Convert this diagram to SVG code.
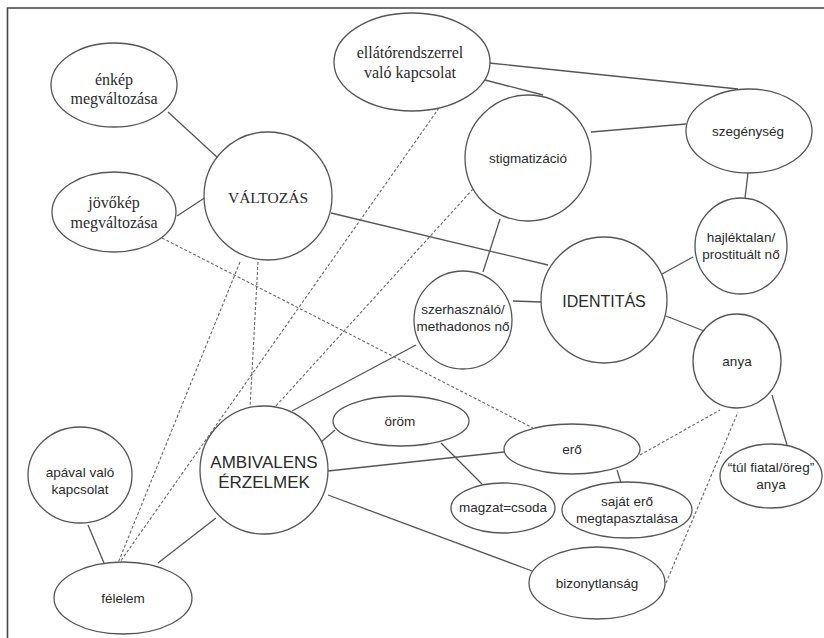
<svg xmlns="http://www.w3.org/2000/svg" width="824" height="638" viewBox="0 0 824 638">
<style>
.n{fill:#fff;stroke:#555;stroke-width:1.3}
.s{stroke:#555;stroke-width:1.3;fill:none}
.d{stroke:#666;stroke-width:1.1;fill:none;stroke-dasharray:3 2}
.tr{font-family:"Liberation Serif",serif;font-size:16px;fill:#2a2a2a;text-anchor:middle}
.ta{font-family:"Liberation Sans",sans-serif;font-size:13.5px;fill:#2a2a2a;text-anchor:middle}
.tb{font-family:"Liberation Sans",sans-serif;font-size:16px;fill:#2a2a2a;text-anchor:middle}
</style>
<rect width="824" height="638" fill="#fff"/>
<path d="M7.5 640 V8 H830" stroke="#444" stroke-width="1.6" fill="none"/>
<g id="connectors">
<line class="s" x1="168" y1="112" x2="218" y2="158"/>
<line class="s" x1="177" y1="216" x2="206" y2="197"/>
<line class="s" x1="331" y1="213" x2="548" y2="265"/>
<line class="s" x1="489" y1="63" x2="738" y2="89"/>
<line class="s" x1="485" y1="80" x2="543" y2="95"/>
<line class="s" x1="591" y1="132" x2="686" y2="124"/>
<line class="s" x1="748" y1="173" x2="745" y2="198"/>
<line class="s" x1="693" y1="257" x2="662" y2="274"/>
<line class="s" x1="500" y1="219" x2="483" y2="272"/>
<line class="s" x1="513" y1="301" x2="541" y2="302"/>
<line class="s" x1="666" y1="316" x2="704" y2="331"/>
<line class="s" x1="772" y1="395" x2="787" y2="445"/>
<line class="s" x1="416" y1="345" x2="292" y2="411"/>
<line class="s" x1="320" y1="443" x2="335" y2="430"/>
<line class="s" x1="328" y1="471" x2="504" y2="452"/>
<line class="s" x1="328" y1="495" x2="532" y2="571"/>
<line class="s" x1="441" y1="443" x2="482" y2="484"/>
<line class="s" x1="617" y1="470" x2="621" y2="483"/>
<line class="s" x1="88" y1="525" x2="104" y2="563"/>
<line class="s" x1="158" y1="563" x2="216" y2="518"/>
<line class="d" x1="162" y1="238" x2="533" y2="428"/>
<line class="d" x1="240" y1="262" x2="118" y2="563"/>
<line class="d" x1="258" y1="262" x2="250" y2="408"/>
<line class="d" x1="439" y1="108" x2="120" y2="562"/>
<line class="d" x1="473" y1="189" x2="275" y2="407"/>
<line class="d" x1="640" y1="455" x2="720" y2="410"/>
<line class="d" x1="666" y1="583" x2="738" y2="412"/>
</g>
<g id="enkep"><ellipse class="n" cx="114" cy="85" rx="63" ry="42"/><text class="tr" x="114" y="85">énkép</text><text class="tr" x="114" y="104">megváltozása</text></g>
<g id="jovokep"><ellipse class="n" cx="114" cy="212" rx="62" ry="40"/><text class="tr" x="114" y="208">jövőkép</text><text class="tr" x="114" y="228">megváltozása</text></g>
<g id="valtozas"><circle class="n" cx="268" cy="196" r="64"/><text class="tr" x="268" y="203" style="font-size:15.5px">VÁLTOZÁS</text></g>
<g id="ellato"><ellipse class="n" cx="412" cy="62" rx="78" ry="49"/><text class="tr" x="410" y="58">ellátórendszerrel</text><text class="tr" x="410" y="78">való kapcsolat</text></g>
<g id="stigma"><circle class="n" cx="528" cy="158" r="63"/><text class="ta" x="528" y="163">stigmatizáció</text></g>
<g id="szegenyseg"><ellipse class="n" cx="749" cy="131" rx="63" ry="42"/><text class="ta" x="748" y="136">szegénység</text></g>
<g id="hajlektalan"><ellipse class="n" cx="741" cy="246" rx="46" ry="48"/><text class="ta" x="741" y="242">hajléktalan/</text><text class="ta" x="741" y="259">prostituált nő</text></g>
<g id="identitas"><circle class="n" cx="604" cy="300" r="63"/><text class="tb" x="604" y="307">IDENTITÁS</text></g>
<g id="szerhasznalo"><circle class="n" cx="463" cy="320" r="49"/><text class="ta" x="463" y="314">szerhasználó/</text><text class="ta" x="463" y="331">methadonos nő</text></g>
<g id="anya"><ellipse class="n" cx="737" cy="361" rx="44" ry="47"/><text class="ta" x="737" y="366">anya</text></g>
<g id="tulfiatal"><ellipse class="n" cx="771" cy="476" rx="51" ry="32"/><text class="ta" x="771" y="472">“túl fiatal/öreg”</text><text class="ta" x="771" y="489">anya</text></g>
<g id="ero"><ellipse class="n" cx="572" cy="449" rx="68" ry="25"/><text class="ta" x="572" y="454">erő</text></g>
<g id="sajatero"><ellipse class="n" cx="627" cy="510" rx="65" ry="28"/><text class="ta" x="627" y="506">saját erő</text><text class="ta" x="627" y="523">megtapasztalása</text></g>
<g id="magzat"><ellipse class="n" cx="503" cy="508" rx="52" ry="25"/><text class="ta" x="503" y="512">magzat=csoda</text></g>
<g id="bizonytlansag"><ellipse class="n" cx="597" cy="583" rx="68" ry="36"/><text class="ta" x="597" y="588">bizonytlanság</text></g>
<g id="orom"><ellipse class="n" cx="401" cy="421" rx="68" ry="25"/><text class="ta" x="400" y="426">öröm</text></g>
<g id="ambivalens"><circle class="n" cx="264" cy="470" r="64"/><text class="tb" x="264" y="468" style="font-size:17px">AMBIVALENS</text><text class="tb" x="264" y="488" style="font-size:17px">ÉRZELMEK</text></g>
<g id="apaval"><ellipse class="n" cx="80" cy="475" rx="52" ry="48"/><text class="ta" x="80" y="477">apával való</text><text class="ta" x="80" y="494">kapcsolat</text></g>
<g id="felelem"><ellipse class="n" cx="123" cy="598" rx="69" ry="36"/><text class="ta" x="123" y="603">félelem</text></g>
</svg>
